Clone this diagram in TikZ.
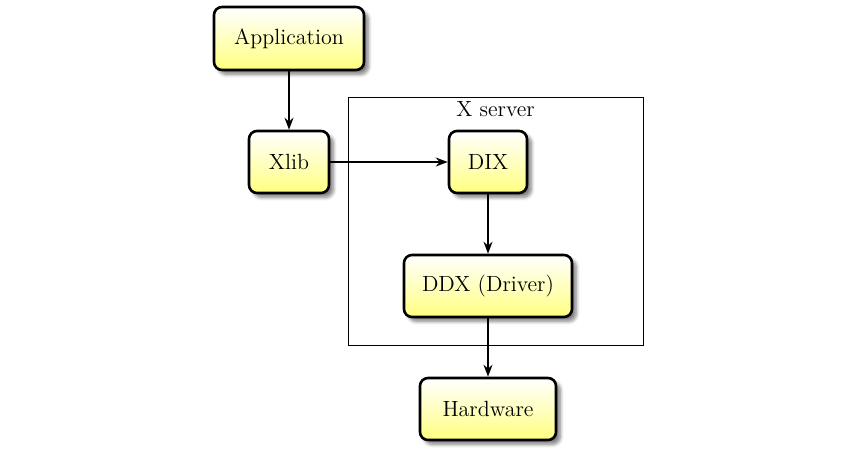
\documentclass[tikz,border=0pt]{standalone}
\usetikzlibrary{shadows.blur,arrows.meta}
\begin{document}
\begin{tikzpicture}[x=0.5pt,y=-0.5pt,
  box/.style={draw=black,line width=1.3pt,rounded corners=4pt,top color=white,bottom color=yellow!50,
    blur shadow={shadow xshift=2.2pt,shadow yshift=-2.2pt,shadow blur steps=6,shadow opacity=50},
    inner sep=0pt,font=\fontsize{11}{13}\selectfont},
  conn/.style={line width=0.8pt,-{Stealth[length=6pt,width=4.5pt]}}]
\useasboundingbox (0,0) rectangle (865,450);
\node[draw,line width=0.4pt,minimum width=147.5pt,minimum height=124pt,inner sep=0pt] (frame) at (495.5,221) {};
\node[anchor=north,inner sep=0pt,font=\fontsize{11}{13}\selectfont] (xs) at (495.5,101) {X server};
\node[box,minimum width=75pt,minimum height=31.5pt] (app) at (289,38.5) {Application};
\node[box,minimum width=40pt,minimum height=31pt] (xlib) at (289,162) {Xlib};
\node[box,minimum width=39pt,minimum height=31pt] (dix) at (488,162) {DIX};
\node[box,minimum width=84pt,minimum height=31pt] (ddx) at (488,286) {DDX (Driver)};
\node[box,minimum width=68pt,minimum height=31pt] (hw) at (488,409) {Hardware};
\draw[conn] (app) -- (xlib);
\draw[conn] (xlib) -- (dix);
\draw[conn] (dix) -- (ddx);
\draw[conn] (ddx) -- (hw);
\end{tikzpicture}
\end{document}
